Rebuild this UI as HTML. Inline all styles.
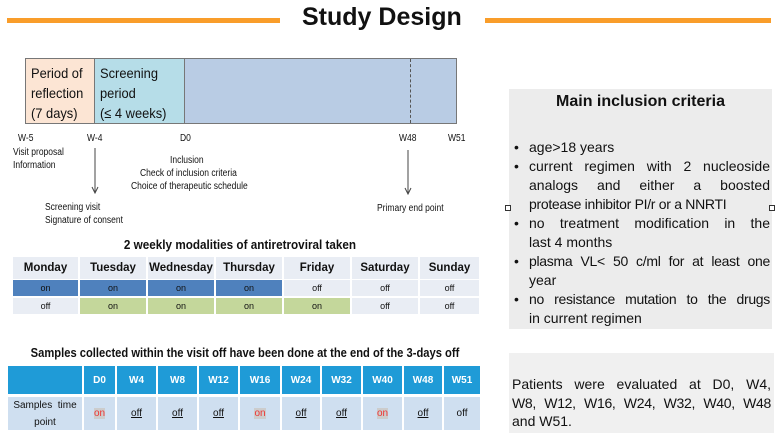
<!DOCTYPE html>
<html><head><meta charset="utf-8"><style>
*{margin:0;padding:0;box-sizing:border-box}
body{width:784px;height:447px;background:#fff;position:relative;overflow:hidden;font-family:"Liberation Sans",sans-serif;color:#111}
.a{position:absolute}
.s{font-size:10px;line-height:13px;white-space:nowrap;transform:scaleX(.85);transform-origin:left top}
.c{display:flex;align-items:center;justify-content:center;position:absolute;font-size:9px}
.bx{font-size:14px;line-height:19px}
.j{display:block;text-align:justify;text-align-last:justify;white-space:nowrap}
.j2{display:block;white-space:nowrap}
.row{display:flex}.row>span:first-child{width:20px;padding-left:5px}.row>span:last-child{flex:1}
</style></head><body>
<div class="a" style="left:7px;top:18px;width:273px;height:5px;background:#f99d2a"></div>
<div class="a" style="left:485px;top:18px;width:286px;height:5px;background:#f99d2a"></div>
<div class="a" style="left:302px;top:3px;font-size:25px;font-weight:bold">Study Design</div>

<div class="a" style="left:25px;top:58px;width:432px;height:66px;border:1px solid #777;background:#b9cce4"></div>
<div class="a" style="left:25px;top:58px;width:70px;height:66px;border:1px solid #777;background:#fce5d4"></div>
<div class="a" style="left:94px;top:58px;width:91px;height:66px;border:1px solid #777;background:#b6dde8"></div>
<div class="a" style="left:410px;top:59px;height:64px;border-left:1px dashed #555"></div>
<div class="a" style="left:31px;top:63px;font-size:14px;line-height:20px;transform:scaleX(.92);transform-origin:left top">Period of<br>reflection<br>(7 days)</div>
<div class="a" style="left:100px;top:63px;font-size:14px;line-height:20px;transform:scaleX(.92);transform-origin:left top">Screening<br>period<br>(≤ 4 weeks)</div>

<div class="a s" style="left:18px;top:132px">W-5</div>
<div class="a s" style="left:87px;top:132px">W-4</div>
<div class="a s" style="left:180px;top:132px">D0</div>
<div class="a s" style="left:399px;top:132px">W48</div>
<div class="a s" style="left:448px;top:132px">W51</div>
<div class="a s" style="left:13px;top:146px">Visit proposal<br>Information</div>
<div class="a s" style="left:170px;top:154px">Inclusion</div>
<div class="a s" style="left:140px;top:167px">Check of inclusion criteria</div>
<div class="a s" style="left:131px;top:180px">Choice of therapeutic schedule</div>
<div class="a s" style="left:45px;top:201px">Screening visit<br>Signature of consent</div>
<div class="a s" style="left:377px;top:202px">Primary end point</div>
<svg class="a" style="left:0;top:0" width="784" height="447"><g stroke="#444" fill="none" stroke-width="1"><path d="M95 148V192M92 187L95 193L98 187"/><path d="M408 150V193M405 188L408 194L411 188"/></g></svg>

<div class="a" style="left:0;width:480px;top:237px;text-align:center;font-size:13px;font-weight:bold;transform:scaleX(.9)">2 weekly modalities of antiretroviral taken</div>
<div id="wk"></div>

<div class="a" style="left:-20px;width:530px;top:345px;text-align:center;font-size:13px;font-weight:bold;white-space:nowrap;transform:scaleX(.86)">Samples collected within the visit off have been done at the end of the 3-days off</div>
<div id="sm"></div>

<div class="a" style="left:509px;top:89px;width:263px;height:240px;background:#ececec"></div>
<div class="a" style="left:509px;top:93px;width:263px;text-align:center;font-size:16px;font-weight:bold">Main inclusion criteria</div>
<div class="a bx" style="left:509px;top:138px;width:261px">
<div class="row"><span>•</span><span><span class="j2">age&gt;18 years</span></span></div>
<div class="row"><span>•</span><span><span class="j">current regimen with 2 nucleoside</span><span class="j">analogs and either a boosted</span><span class="j2" style="letter-spacing:-.3px">protease inhibitor PI/r or a NNRTI</span></span></div>
<div class="row"><span>•</span><span><span class="j">no treatment modification in the</span><span class="j2">last 4 months</span></span></div>
<div class="row"><span>•</span><span><span class="j" style="letter-spacing:-.3px">plasma VL&lt; 50 c/ml for at least one</span><span class="j2">year</span></span></div>
<div class="row"><span>•</span><span><span class="j" style="letter-spacing:-.3px">no resistance mutation to the drugs</span><span class="j2">in current regimen</span></span></div>
</div>
<div class="a" style="left:505px;top:205px;width:6px;height:6px;border:1px solid #333;background:#fff"></div>
<div class="a" style="left:769px;top:205px;width:6px;height:6px;border:1px solid #333;background:#fff"></div>

<div class="a" style="left:509px;top:353px;width:265px;height:80px;background:#f0f0f0"></div>
<div class="a bx" style="left:512px;top:375px;width:259px;line-height:18.5px"><span class="j">Patients were evaluated at D0, W4,</span><span class="j" style="letter-spacing:-.3px">W8, W12, W16, W24, W32, W40, W48</span><span class="j2">and W51.</span></div>

<script>
var xs=[12,79,147,215,283,351,419,480],days=["Monday","Tuesday","Wednesday","Thursday","Friday","Saturday","Sunday"],h="";
var r1=["on","on","on","on","off","off","off"],r2=["off","on","on","on","on","off","off"];
for(var i=0;i<7;i++){var l=xs[i]+1,w=xs[i+1]-xs[i]-2;
h+='<div class="c" style="left:'+l+'px;top:257px;width:'+w+'px;height:22px;background:#e9edf4;font-size:11.5px;font-weight:bold">'+days[i]+'</div>';
h+='<div class="c" style="left:'+l+'px;top:280px;width:'+w+'px;height:16px;background:'+(i<4?'#4f81bd':'#e9edf4')+'">'+r1[i]+'</div>';
h+='<div class="c" style="left:'+l+'px;top:298px;width:'+w+'px;height:16px;background:'+(i>0&&i<5?'#c4d79b':'#e9edf4')+'">'+r2[i]+'</div>';}
document.getElementById("wk").outerHTML=h;
var sx=[7,83,116,157,198,239,281,321,362,403,443,481],hd=["","D0","W4","W8","W12","W16","W24","W32","W40","W48","W51"],v=["","on","off","off","off","on","off","off","on","off","off"];h="";
for(var i=0;i<11;i++){var l=sx[i]+1,w=sx[i+1]-sx[i]-2;
h+='<div class="c" style="left:'+l+'px;top:366px;width:'+w+'px;height:28px;background:#1f9bd7;color:#fff;font-weight:bold;font-size:10px">'+hd[i]+'</div>';
var t=i==0?'<span style="text-align:center;line-height:17px">Samples&nbsp; time<br>point</span>':(v[i]=="on"?'<span style="background:#ccc;color:#e33">on</span>':(i==10?'off':'<u>off</u>'));
h+='<div class="c" style="left:'+l+'px;top:397px;width:'+w+'px;height:33px;background:#cfdff0;font-size:10px">'+t+'</div>';}
document.getElementById("sm").outerHTML=h;
</script>
</body></html>
